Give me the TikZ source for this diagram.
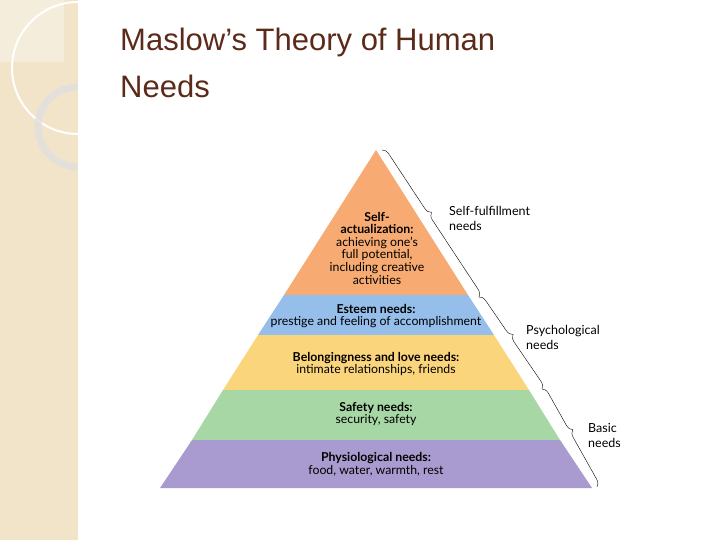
\documentclass[tikz,border=0pt]{standalone}
\usepackage{fontspec}
\setmainfont{Lato}
\newfontfamily\titlefont{Liberation Sans}
\usetikzlibrary{positioning,decorations.pathreplacing}
\definecolor{bandorange}{HTML}{F7AA72}
\definecolor{bandblue}{HTML}{95BEEA}
\definecolor{bandyellow}{HTML}{FBD57C}
\definecolor{bandgreen}{HTML}{A8D7A6}
\definecolor{bandpurple}{HTML}{A99BCF}
\definecolor{titlebrown}{HTML}{5B2A18}
\definecolor{stripbeige}{HTML}{F1E4C9}
\tikzset{
  bandtext/.style={align=center,font=\fontsize{12.3}{12.6}\selectfont,inner sep=0pt},
  sidetext/.style={align=left,anchor=west,font=\fontsize{12.5}{15}\selectfont,inner sep=0pt},
  needbrace/.style={decorate,decoration={brace,amplitude=7pt,aspect=0.45},thin}
}
\begin{document}
\begin{tikzpicture}[x=1pt,y=-1pt]
\useasboundingbox (0,0) rectangle (720,540);

% Left decorative strip
\fill[stripbeige] (0,0) rectangle (78,540);
\begin{scope}
  \clip (0,0) rectangle (78,540);
  \fill[white,opacity=0.35] (0,0) rectangle (64,62);
  \draw[white,line width=2pt] (78,68) circle[radius=66];
  \draw[black!12,line width=7pt,opacity=0.8] (78,127) circle[radius=40];
\end{scope}

% Title
\node[anchor=north west,align=left,text=titlebrown,font=\titlefont\fontsize{31}{47}\selectfont,inner sep=0pt] (title) at (120,28) {Maslow’s Theory of Human\\Needs};

% Pyramid bands
\fill[bandorange] (376,150) -- (468,295) -- (284,295) -- cycle;
\fill[bandblue] (284,295) -- (468,295) -- (494,335) -- (258,335) -- cycle;
\fill[bandyellow] (258,335) -- (494,335) -- (529,390) -- (223,390) -- cycle;
\fill[bandgreen] (223,390) -- (529,390) -- (560,440) -- (192,440) -- cycle;
\fill[bandpurple] (192,440) -- (560,440) -- (592,488) -- (160,488) -- cycle;

% Band texts
\node[bandtext] (self) at (377,248) {\textbf{Self-}\\\textbf{actualization:}\\achieving one’s\\full potential,\\including creative\\activities};
\node[bandtext] (esteem) at (376,316) {\textbf{Esteem needs:}\\prestige and feeling of accomplishment};
\node[bandtext] (belong) at (376,364) {\textbf{Belongingness and love needs:}\\intimate relationships, friends};
\node[bandtext] (safety) at (376,414) {\textbf{Safety needs:}\\security, safety};
\node[bandtext] (physio) at (376,464) {\textbf{Physiological needs:}\\food, water, warmth, rest};

% Braces
\coordinate (b0) at (382,150);
\coordinate (b1) at (479,297);
\coordinate (b2) at (542,389);
\coordinate (b3) at (597,487);
\draw[needbrace] (b0) -- (b1);
\draw[needbrace] (b1) -- (b2);
\draw[needbrace] (b2) -- (b3);

% Side labels
\node[sidetext] (fulfil) at (449,218) {Self-fulfillment\\needs};
\node[sidetext] (psych) at (526,337) {Psychological\\needs};
\node[sidetext] (basic) at (588,435) {Basic\\needs};
\end{tikzpicture}
\end{document}
